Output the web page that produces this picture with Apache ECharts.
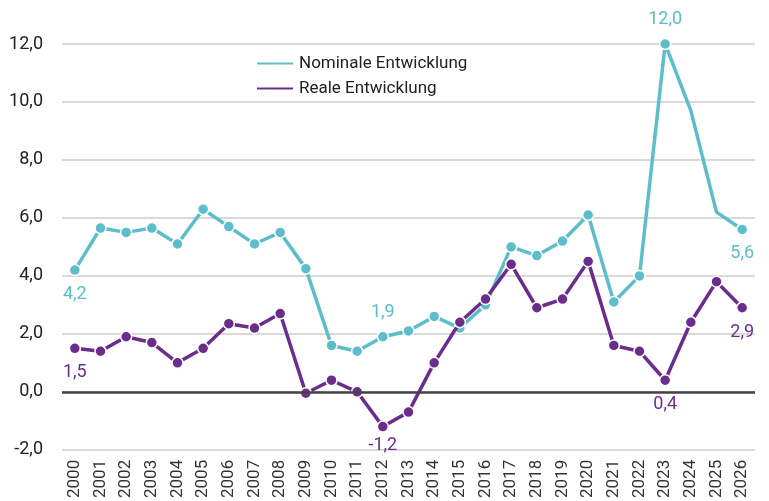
<!DOCTYPE html>
<html lang="de">
<head>
<meta charset="UTF-8">
<script src="https://cdn.jsdelivr.net/npm/echarts@6/dist/echarts.min.js"></script>
<style>
  html, body { margin: 0; padding: 0; background: #fff; }
  #chart { width: 769px; height: 501px; }
</style>
</head>
<body>
<div id="chart"></div>
<script>
  var years = ['2000','2001','2002','2003','2004','2005','2006','2007','2008','2009','2010','2011','2012','2013',
               '2014','2015','2016','2017','2018','2019','2020','2021','2022','2023','2024','2025','2026'];
  var nominal = [4.2, 5.65, 5.5, 5.65, 5.1, 6.3, 5.7, 5.1, 5.5, 4.25, 1.6, 1.4, 1.9, 2.1,
                 2.6, 2.2, 3.0, 5.0, 4.7, 5.2, 6.1, 3.1, 4.0, 12.0, 9.7, 6.2, 5.6];
  var real = [1.5, 1.4, 1.9, 1.7, 1.0, 1.5, 2.35, 2.2, 2.7, -0.05, 0.4, 0.0, -1.2, -0.7,
              1.0, 2.4, 3.2, 4.4, 2.9, 3.2, 4.5, 1.6, 1.4, 0.4, 2.4, 3.8, 2.9];
  // which points get a value label, and where
  var nominalLabels = { 0: 'bottom', 12: 'top', 23: 'top', 26: 'bottom' };
  var realLabels = { 0: 'bottom', 12: 'bottom', 23: 'bottom', 26: 'bottom' };
  // nominal forecast points without marker
  var nominalNoSymbol = [24, 25];

  var teal = '#5dbdcb';
  var purple = '#6b2d8b';
  var font = 'Roboto, sans-serif';

  function fmt(v) { return v.toFixed(1).replace('.', ','); }

  function buildData(values, labels, noSym, color) {
    return values.map(function (v, i) {
      var item = { value: v };
      if (labels[i] !== undefined) {
        item.label = {
          show: true, position: labels[i],
          distance: (i === 12 && labels[i] === 'bottom') ? 4 : 9,
          color: color, fontSize: 18, fontFamily: font,
          formatter: function (p) { return fmt(p.value); }
        };
      }
      if (noSym && noSym.indexOf(i) >= 0) item.symbol = 'none';
      return item;
    });
  }

  var chart = echarts.init(document.getElementById('chart'));
  chart.setOption({
    animation: false,
    grid: { left: 62, right: 14, top: 44, bottom: 50 },
    legend: {
      orient: 'vertical', left: 250, top: 50, itemGap: 8,
      itemWidth: 38, itemHeight: 14,
      icon: 'path://M0,6 L38,6 L38,10 L0,10 Z',
      textStyle: { fontSize: 17, fontFamily: font, color: '#222' },
      data: ['Nominale Entwicklung', 'Reale Entwicklung']
    },
    xAxis: {
      type: 'category', data: years, boundaryGap: true,
      axisLine: { show: false }, axisTick: { show: false },
      axisLabel: { rotate: 90, fontSize: 17, fontFamily: font, color: '#333', margin: 10, interval: 0 }
    },
    yAxis: {
      type: 'value', min: -2, max: 12, interval: 2,
      axisLine: { show: false }, axisTick: { show: false },
      axisLabel: { fontSize: 18, fontFamily: font, color: '#222', margin: 19,
        formatter: function (v) { return fmt(v); } },
      splitLine: { lineStyle: { color: '#d9d9d9', width: 2 } }
    },
    series: [
      {
        name: 'Nominale Entwicklung', type: 'line',
        data: buildData(nominal, nominalLabels, nominalNoSymbol, teal),
        color: teal,
        lineStyle: { width: 3.5, color: teal },
        symbol: 'circle', symbolSize: 11,
        itemStyle: { color: teal, borderColor: '#fff', borderWidth: 1.5 },
        markLine: {
          silent: true, symbol: 'none', label: { show: false },
          lineStyle: { color: '#444', width: 2.5, type: 'solid' },
          data: [{ yAxis: 0 }]
        },
        z: 2
      },
      {
        name: 'Reale Entwicklung', type: 'line',
        data: buildData(real, realLabels, null, purple),
        color: purple,
        lineStyle: { width: 3.5, color: purple },
        symbol: 'circle', symbolSize: 11,
        itemStyle: { color: purple, borderColor: '#fff', borderWidth: 1.5 },
        z: 3
      }
    ]
  });
</script>
</body>
</html>
